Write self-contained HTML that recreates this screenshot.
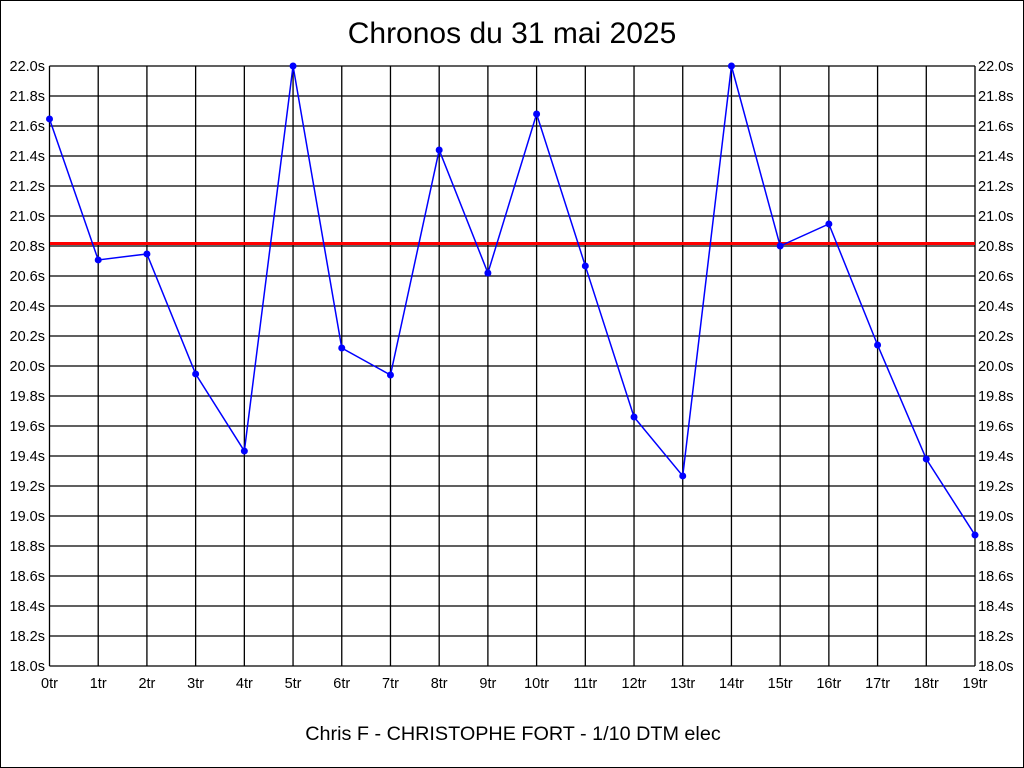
<!DOCTYPE html><html><head><style>body{margin:0;background:#fff}svg{display:block}text{font-family:"Liberation Sans",sans-serif}</style></head><body>
<svg width="1024" height="768" xmlns="http://www.w3.org/2000/svg">
<rect x="0.5" y="0.5" width="1023" height="767" fill="#fff" stroke="#000"/>
<text x="512" y="43" font-size="30" text-anchor="middle">Chronos du 31 mai 2025</text>
<text x="513" y="740" font-size="19.8" text-anchor="middle">Chris F - CHRISTOPHE FORT - 1/10 DTM elec</text>
<g id="g" stroke="#000" stroke-width="1.3"></g>
<g id="t" font-size="14.5"></g>
<line x1="50" x2="975" y1="243.5" y2="243.5" stroke="#f00" stroke-width="3"/>
<polyline id="p" fill="none" stroke="#00f" stroke-width="1.5"/>
<g id="d" fill="#00f"></g>
</svg>
<script>
const ns="http://www.w3.org/2000/svg",g=document.getElementById('g'),t=document.getElementById('t'),d=document.getElementById('d');
function el(p,n,a,txt){const e=document.createElementNS(ns,n);for(const k in a)e.setAttribute(k,a[k]);if(txt)e.textContent=txt;p.appendChild(e);}
const X=i=>49.5+i*(925.5/19),Y=v=>66+(22-v)*150;
for(let i=0;i<=20;i++){const v=22-i*0.2,y=Y(v);el(g,'line',{x1:49.5,x2:975,y1:y,y2:y});
el(t,'text',{x:45,y:y+5,'text-anchor':'end'},v.toFixed(1)+'s');el(t,'text',{x:978,y:y+5},v.toFixed(1)+'s');}
for(let i=0;i<20;i++){const x=X(i);el(g,'line',{x1:x,x2:x,y1:66,y2:666});el(t,'text',{x:x,y:688,'text-anchor':'middle'},i+'tr');}
const v=[21.647,20.707,20.747,19.947,19.433,22.0,20.12,19.94,21.44,20.62,21.68,20.667,19.66,19.267,22.0,20.8,20.947,20.14,19.38,18.873];
document.getElementById('p').setAttribute('points',v.map((a,i)=>X(i)+','+Y(a)).join(' '));
v.forEach((a,i)=>el(d,'circle',{cx:X(i),cy:Y(a),r:3.5}));
</script>
</body></html>
